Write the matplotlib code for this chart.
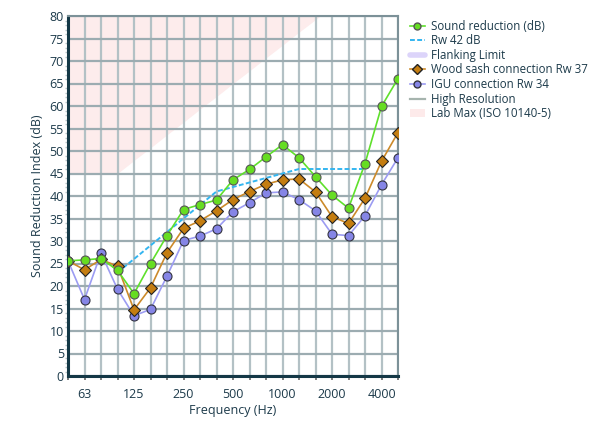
import matplotlib
matplotlib.use("Agg")
import matplotlib.pyplot as plt
import numpy as np
from matplotlib.lines import Line2D
from matplotlib.patches import Patch

plt.rcParams['font.family'] = ['Open Sans', 'DejaVu Sans']

# one-third octave bands, 50 Hz .. 5000 Hz
bands = [50, 63, 80, 100, 125, 160, 200, 250, 315, 400, 500,
         630, 800, 1000, 1250, 1600, 2000, 2500, 3150, 4000, 5000]
tick_labels = ["63", "125", "250", "500", "1000", "2000", "4000"]
tick_bands = [63, 125, 250, 500, 1000, 2000, 4000]

sound_reduction = [25.6, 25.8, 26.1, 23.5, 18.3, 25.0, 31.2, 37.0, 38.1, 39.1, 43.6,
                   45.9, 48.7, 51.4, 48.5, 44.3, 40.2, 37.3, 47.2, 59.9, 66.1]
wood_sash = [25.6, 23.6, 25.9, 24.4, 14.7, 19.6, 27.4, 32.8, 34.5, 36.7, 39.2,
             41.0, 42.6, 43.6, 43.8, 40.9, 35.4, 33.9, 39.5, 47.7, 54.1]
igu = [25.6, 17.0, 27.3, 19.3, 13.4, 14.8, 22.2, 30.1, 31.1, 32.7, 36.5,
       38.5, 40.7, 40.9, 39.2, 36.7, 31.5, 31.2, 35.6, 42.5, 48.5]

# Rw 42 reference curve, 100 .. 3150 Hz
rw_bands = [100, 125, 160, 200, 250, 315, 400, 500, 630, 800,
            1000, 1250, 1600, 2000, 2500, 3150]
rw_values = [23, 26, 29, 32, 35, 38, 41, 42, 43, 44, 45, 46, 46, 46, 46, 46]

# lab maximum (ISO 10140-5)
lab_max = [45, 45, 45, 45, 47.9, 50.7, 53.6, 56.4, 59.3, 62.1, 65.0,
           67.8, 70.7, 73.5, 76.4, 79.2, 82.0, 84.9, 87.7, 90.6, 93.4]

x = np.arange(len(bands))
pos = {b: i for i, b in enumerate(bands)}
rw_x = [pos[b] for b in rw_bands]

fig = plt.figure(figsize=(5.96, 4.32), dpi=100)
ax = fig.add_axes([68/596, 1-376/432, 330/596, 360/432])

ax.fill_between(x, lab_max, 80, color="#fdecec", lw=0, zorder=0.5)

ax.plot(rw_x, rw_values, color="#33b5f0", lw=1.4, ls=(0, (2.5, 1.2)), zorder=3)
ax.plot(x, igu, color="#9c9cf2", lw=1.2, marker="o", ms=6.5,
        mfc="#8585e6", mec="#333340", mew=0.8, zorder=4)
ax.plot(x, wood_sash, color="#cc8a2a", lw=1.2, marker="D", ms=6,
        mfc="#c47d10", mec="#222222", mew=0.8, zorder=5)
ax.plot(x, sound_reduction, color="#5fe02c", lw=1.2, marker="o", ms=6.5,
        mfc="#66dd22", mec="#555555", mew=0.8, zorder=6)

ax.set_xlim(0, 20)
ax.set_ylim(0, 80)
ax.set_xticks(x)
ax.set_xticklabels([tick_labels[tick_bands.index(b)] if b in tick_bands else "" for b in bands])
ax.set_yticks(np.arange(0, 81, 5))
ax.set_yticks(np.arange(0, 81, 1), minor=True)
ax.grid(True, axis="y", color="#9cacb1", lw=1.6, zorder=0)
ax.grid(True, axis="x", color="#b3c1c5", lw=1.6, zorder=0)
ax.set_axisbelow(True)

ax.tick_params(axis="y", which="major", length=0, pad=3, labelsize=9, labelcolor="#1c3a4a")
ax.tick_params(axis="y", which="minor", length=2.5, color="#b8c4c8", width=1)
ax.tick_params(axis="x", which="major", length=3, color="#666666", width=1.2,
               pad=6, labelsize=9, labelcolor="#1c3a4a")

for side in ("left", "bottom"):
    ax.spines[side].set_color("#143846")
    ax.spines[side].set_linewidth(2.2)
for side in ("top", "right"):
    ax.spines[side].set_color("#7c9198")
    ax.spines[side].set_linewidth(1.5)

ax.set_xlabel("Frequency (Hz)", fontsize=9, color="#1c3a4a", labelpad=2)
ax.set_ylabel("Sound Reduction Index (dB)", fontsize=9, color="#1c3a4a", labelpad=4)

handles = [
    Line2D([], [], color="#5fe02c", lw=1.2, marker="o", ms=5, mfc="#66dd22", mec="#555555"),
    Line2D([], [], color="#33b5f0", lw=1.4, ls=(0, (2.5, 1.2))),
    Line2D([], [], color="#dcd4fa", lw=4, solid_capstyle="round"),
    Line2D([], [], color="#cc8a2a", lw=1.2, marker="D", ms=5, mfc="#c47d10", mec="#222222"),
    Line2D([], [], color="#9c9cf2", lw=1.2, marker="o", ms=5, mfc="#8585e6", mec="#333340"),
    Line2D([], [], color="#a6b4ae", lw=1.6),
    Patch(facecolor="#fdeaea", edgecolor="none"),
]
labels = ["Sound reduction (dB)", "Rw 42 dB", "Flanking Limit",
          "Wood sash connection Rw 37", "IGU connection Rw 34",
          "High Resolution", "Lab Max (ISO 10140-5)"]
fig.legend(handles, labels, loc="upper left", bbox_to_anchor=(405/596, 1-15/432),
           frameon=False, fontsize=8.3, handlelength=1.3, handletextpad=0.55,
           labelspacing=0.14, borderaxespad=0, labelcolor="#1c3a4a")

fig.savefig("out.png", dpi=100)
